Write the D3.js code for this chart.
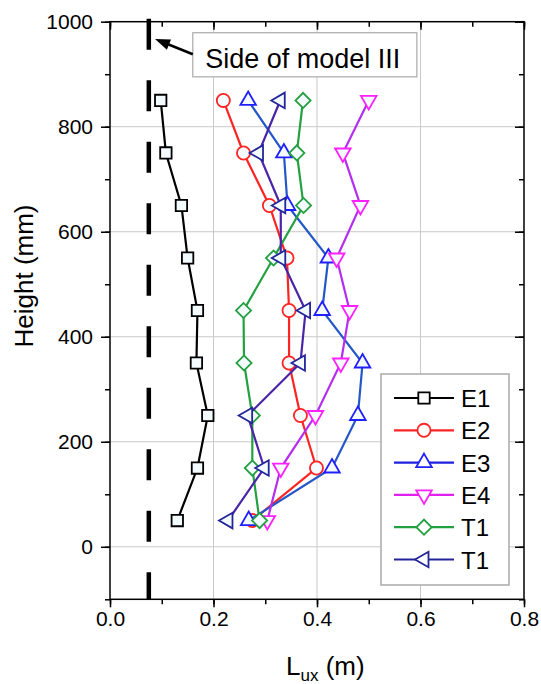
<!DOCTYPE html>
<html>
<head>
<meta charset="utf-8">
<script src="https://cdn.jsdelivr.net/npm/d3@7"></script>
<style>
  body { margin: 0; background: #fff; }
  text { font-family: "Liberation Sans", Arial, sans-serif; }
</style>
</head>
<body>
<svg></svg>
<script>
const size = {w: 541, h: 684};
const margin = {t: 21.7, r: 17, b: 84.7, l: 110};

// heights of the measuring points (mm)
const heights = [50, 150, 250, 350, 450, 550, 650, 750, 850];
// L_ux (m), bottom to top
const e1 = [0.130, 0.169, 0.189, 0.167, 0.169, 0.150, 0.138, 0.108, 0.098];
const e2 = [0.275, 0.399, 0.368, 0.346, 0.346, 0.342, 0.308, 0.258, 0.219];
const e3 = [0.268, 0.429, 0.479, 0.488, 0.410, 0.422, 0.343, 0.336, 0.267];
const e4 = [0.304, 0.330, 0.397, 0.446, 0.463, 0.438, 0.484, 0.450, 0.500];
const t1a = [0.289, 0.275, 0.275, 0.259, 0.258, 0.316, 0.374, 0.361, 0.373];
const t1b = [0.228, 0.298, 0.266, 0.368, 0.378, 0.330, 0.330, 0.287, 0.329];
const seriesNames = ['E1', 'E2', 'E3', 'E4', 'T1', 'T1'];
const seriesValues = [e1, e2, e3, e4, t1a, t1b];

// side of model III
const sideX = 0.075;
const sideLabel = 'Side of model III';

const xTicks = [0, 0.2, 0.4, 0.6, 0.8];
const yTicks = [0, 200, 400, 600, 800, 1000];

// looks per series
const styles = [
  {line: '#000000', mark: '#000000', legLine: '#000000', shape: 'square'},
  {line: '#ff2424', mark: '#ff2424', legLine: '#ff2424', shape: 'circle'},
  {line: '#2457c8', mark: '#2020ff', legLine: '#2020e0', shape: 'up'},
  {line: '#b52ef0', mark: '#ff20ff', legLine: '#e020f0', shape: 'down'},
  {line: '#23a040', mark: '#23a040', legLine: '#23a040', shape: 'diamond'},
  {line: '#4a25a8', mark: '#25259a', legLine: '#25259a', shape: 'left'}
];

const svg = d3.select('svg')
    .attr('width', size.w)
    .attr('height', size.h);

const pw = size.w - margin.l - margin.r;
const ph = size.h - margin.t - margin.b;

const x = d3.scaleLinear().domain([0, 0.8]).range([margin.l, margin.l + pw]);
const y = d3.scaleLinear().domain([-100, 1000]).range([margin.t + ph, margin.t]);

// grid
const gridG = svg.append('g').attr('stroke', '#c9c9c9').attr('stroke-width', 1);
gridG.selectAll('line.vx')
    .data([0.2, 0.4, 0.6])
    .join('line')
    .attr('x1', d => x(d)).attr('x2', d => x(d))
    .attr('y1', y(-100)).attr('y2', y(1000));
gridG.selectAll('line.hy')
    .data([0, 200, 400, 600, 800])
    .join('line')
    .attr('y1', d => y(d)).attr('y2', d => y(d))
    .attr('x1', x(0)).attr('x2', x(0.8));

// axes: left & bottom ticks outward, top & right inward
function styleAxis(g) {
  g.select('.domain').remove();
  g.selectAll('line').attr('stroke', '#000').attr('stroke-width', 1.5);
  g.selectAll('text').attr('font-size', 21).attr('fill', '#000');
}
const xMinor = d3.range(0, 0.81, 0.1);
const yMinor = d3.range(-100, 1001, 100);

svg.append('g')
    .attr('transform', `translate(0,${y(-100)})`)
    .call(d3.axisBottom(x).tickValues(xMinor).tickSize(5).tickFormat(''))
    .call(styleAxis);
svg.append('g')
    .attr('transform', `translate(0,${y(-100)})`)
    .call(d3.axisBottom(x).tickValues(xTicks).tickSize(8).tickPadding(4).tickFormat(d3.format('.1f')))
    .call(styleAxis);
svg.append('g')
    .attr('transform', `translate(0,${y(1000)})`)
    .call(d3.axisBottom(x).tickValues(xMinor).tickSize(5).tickFormat(''))
    .call(styleAxis);
svg.append('g')
    .attr('transform', `translate(0,${y(1000)})`)
    .call(d3.axisBottom(x).tickValues(xTicks).tickSize(8).tickFormat(''))
    .call(styleAxis);

svg.append('g')
    .attr('transform', `translate(${x(0)},0)`)
    .call(d3.axisLeft(y).tickValues(yMinor).tickSize(5).tickFormat(''))
    .call(styleAxis);
svg.append('g')
    .attr('transform', `translate(${x(0)},0)`)
    .call(d3.axisLeft(y).tickValues(yTicks).tickSize(9).tickPadding(8).tickFormat(d3.format('d')))
    .call(styleAxis);
svg.append('g')
    .attr('transform', `translate(${x(0.8)},0)`)
    .call(d3.axisLeft(y).tickValues(yMinor).tickSize(5).tickFormat(''))
    .call(styleAxis);
svg.append('g')
    .attr('transform', `translate(${x(0.8)},0)`)
    .call(d3.axisLeft(y).tickValues(yTicks).tickSize(9).tickFormat(''))
    .call(styleAxis);

// frame
svg.append('rect')
    .attr('x', x(0)).attr('y', y(1000))
    .attr('width', pw).attr('height', ph)
    .attr('fill', 'none').attr('stroke', '#000').attr('stroke-width', 1.5);

// dashed side line
svg.append('line')
    .attr('x1', x(sideX)).attr('x2', x(sideX))
    .attr('y1', y(1000) - 3).attr('y2', y(-100))
    .attr('stroke', '#000').attr('stroke-width', 4.5)
    .attr('stroke-dasharray', '31,30.5');

// marker shapes
function markerPath(shape) {
  if (shape === 'square') return d3.symbol(d3.symbolSquare, 130)();
  if (shape === 'circle') return d3.symbol(d3.symbolCircle, 135)();
  if (shape === 'diamond') return d3.symbol(d3.symbolSquare, 115)();
  return d3.symbol(d3.symbolTriangle, 105)();
}
function markerRotate(shape) {
  if (shape === 'diamond') return 45;
  if (shape === 'down') return 180;
  if (shape === 'left') return -90;
  return 0;
}

const line = d3.line()
    .x(d => x(d[0]))
    .y(d => y(d[1]));

const seriesG = svg.append('g');
seriesValues.forEach((vals, i) => {
  const st = styles[i];
  const pts = vals.map((v, j) => [v, heights[j]]);
  const g = seriesG.append('g');
  g.append('path')
      .attr('d', line(pts))
      .attr('fill', 'none')
      .attr('stroke', st.line)
      .attr('stroke-width', 2.2);
  g.selectAll('path.m')
      .data(pts)
      .join('path')
      .attr('class', 'm')
      .attr('d', markerPath(st.shape))
      .attr('transform', d => `translate(${x(d[0])},${y(d[1])}) rotate(${markerRotate(st.shape)})`)
      .attr('fill', '#f4fbff')
      .attr('stroke', st.mark)
      .attr('stroke-width', 1.8);
});

// annotation box and arrow
const annG = svg.append('g');
annG.append('rect')
    .attr('x', x(0.16)).attr('y', y(979))
    .attr('width', x(0.593) - x(0.16)).attr('height', y(895) - y(979))
    .attr('fill', '#fff').attr('stroke', '#aaa').attr('stroke-width', 1.2);
annG.append('text')
    .attr('x', x(0.184)).attr('y', y(912))
    .attr('font-size', 27)
    .text(sideLabel);
const tip = [x(0.087), y(967)];
const tail = [x(0.16), y(938)];
const ang = Math.atan2(tail[1] - tip[1], tail[0] - tip[0]);
annG.append('line')
    .attr('x1', tail[0]).attr('y1', tail[1])
    .attr('x2', tip[0] + 10 * Math.cos(ang)).attr('y2', tip[1] + 10 * Math.sin(ang))
    .attr('stroke', '#000').attr('stroke-width', 2.5);
const hl = 15, hw = 5.5;
const bx = tip[0] + hl * Math.cos(ang), by = tip[1] + hl * Math.sin(ang);
annG.append('path')
    .attr('d', `M${tip[0]},${tip[1]} L${bx - hw * Math.sin(ang)},${by + hw * Math.cos(ang)} L${bx + hw * Math.sin(ang)},${by - hw * Math.cos(ang)} Z`)
    .attr('fill', '#000');

// legend
const legX = 381, legY = 374, legW = 128, legH = 211, rowH = 32.3;
const legG = svg.append('g');
legG.append('rect')
    .attr('x', legX).attr('y', legY)
    .attr('width', legW).attr('height', legH)
    .attr('fill', '#fff').attr('stroke', '#aaa').attr('stroke-width', 1.5);
seriesNames.forEach((name, i) => {
  const st = styles[i];
  const cy = legY + 24 + i * rowH;
  legG.append('line')
      .attr('x1', legX + 13).attr('x2', legX + 73)
      .attr('y1', cy).attr('y2', cy)
      .attr('stroke', st.legLine)
      .attr('stroke-width', 2.2);
  legG.append('path')
      .attr('d', markerPath(st.shape))
      .attr('transform', `translate(${legX + 43},${cy}) rotate(${markerRotate(st.shape)})`)
      .attr('fill', '#fff')
      .attr('stroke', st.mark)
      .attr('stroke-width', 1.8);
  legG.append('text')
      .attr('x', legX + 80).attr('y', cy + 9)
      .attr('font-size', 24)
      .text(name);
});

// axis titles
const xt = svg.append('text')
    .attr('x', 286).attr('y', 675)
    .attr('font-size', 26);
xt.append('tspan').text('L');
xt.append('tspan').attr('font-size', 17).attr('dy', 6).text('ux');
xt.append('tspan').attr('dy', -6).text(' (m)');

svg.append('text')
    .attr('transform', `translate(33,${276})rotate(-90)`)
    .attr('text-anchor', 'middle')
    .attr('font-size', 26)
    .text('Height (mm)');
</script>
</body>
</html>
